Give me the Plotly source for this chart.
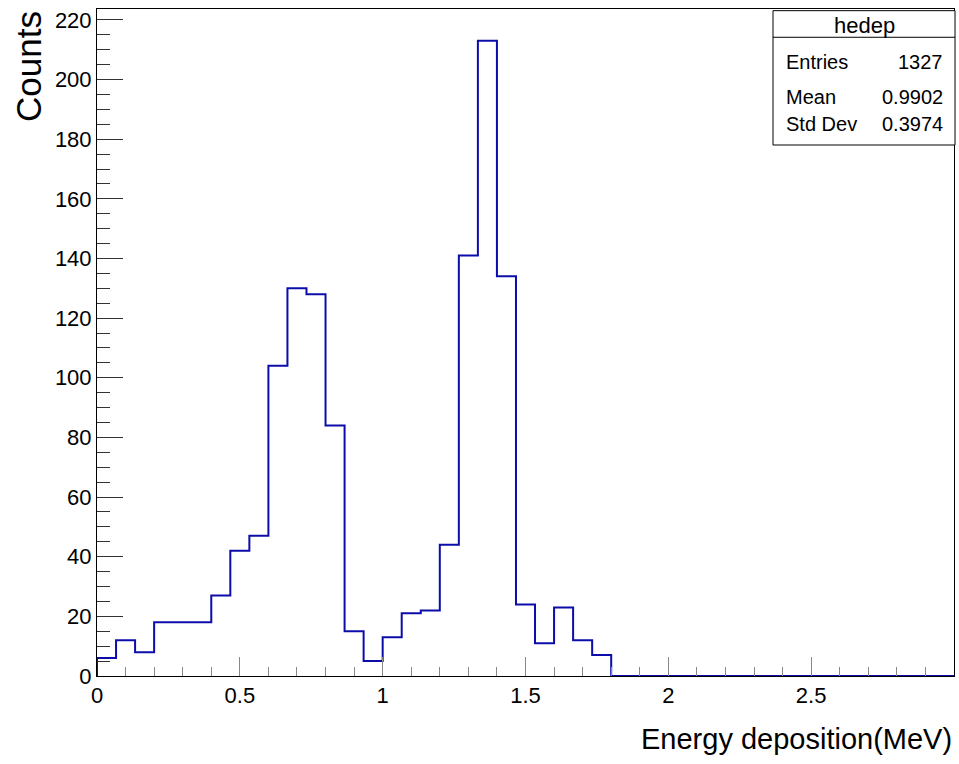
import plotly.graph_objects as go

# Histogram definition (ROOT TH1 "hedep"): 45 bins from 0 to 3 MeV
x_min = 0.0
x_max = 3.0
n_bins = 45
counts = [6, 12, 8, 18, 18, 18, 27, 42, 47, 104, 130, 128, 84, 15, 5,
          13, 21, 22, 44, 141, 213, 134, 24, 11, 23, 12, 7, 0, 0, 0,
          0, 0, 0, 0, 0, 0, 0, 0, 0, 0, 0, 0, 0, 0, 0]

x_tick_vals = [0, 0.5, 1, 1.5, 2, 2.5]
x_tick_text = ["0", "0.5", "1", "1.5", "2", "2.5"]
y_tick_vals = [0, 20, 40, 60, 80, 100, 120, 140, 160, 180, 200, 220]
y_max = 223.65

stats_name = "hedep"
stats_labels = ["Entries", "Mean", "Std Dev"]
stats_values = ["1327", "0.9902", "0.3974"]

x_title = "Energy deposition(MeV)"
y_title = "Counts"

# Build step outline from bins
w = (x_max - x_min) / n_bins
edges = [x_min + i * w for i in range(n_bins + 1)]
xs = [edges[0]] + edges[:-1] + [edges[-1], edges[-1]]
ys = [0] + counts + [counts[-1], 0]

FONT = "Liberation Sans, Arial, Helvetica, sans-serif"
LINE = "#0c0caa"

fig = go.Figure()
fig.add_trace(go.Scatter(x=xs, y=ys, mode="lines", line=dict(color=LINE, width=2, shape="hv"),
                         hoverinfo="skip", showlegend=False))

fig.update_layout(
    width=959, height=764,
    margin=dict(l=97, r=5, t=9, b=88),
    paper_bgcolor="white", plot_bgcolor="white",
    font=dict(family=FONT, color="black"),
    showlegend=False,
)
fig.update_xaxes(
    range=[x_min, x_max], showgrid=False, zeroline=False,
    showline=True, linecolor="black", linewidth=1, mirror=True,
    ticks="inside", ticklen=19, tickcolor="#888", tickwidth=1,
    tickvals=x_tick_vals, ticktext=x_tick_text,
    tickfont=dict(size=22, family=FONT, color="black"),
    minor=dict(dtick=0.1, tick0=0, ticks="inside", ticklen=9, tickcolor="#888", tickwidth=1),
)
fig.update_yaxes(
    range=[0, y_max], showgrid=False, zeroline=False,
    showline=True, linecolor="black", linewidth=1, mirror=True,
    ticks="inside", ticklen=26, tickcolor="#333", tickwidth=1,
    tickvals=y_tick_vals,
    tickfont=dict(size=22, family=FONT, color="black"),
    minor=dict(dtick=5, tick0=0, ticks="inside", ticklen=13, tickcolor="#333", tickwidth=1),
)

# axis titles (ROOT style: right/top aligned)
fig.add_annotation(text=x_title, xref="paper", yref="paper", x=1.0, y=-0.094,
                   xanchor="right", yanchor="middle", showarrow=False,
                   font=dict(size=29, family=FONT, color="black"))
fig.add_annotation(text=y_title, xref="paper", yref="paper", x=-0.08, y=1.0,
                   xanchor="center", yanchor="top", textangle=-90, showarrow=False,
                   font=dict(size=35, family=FONT, color="black"))

# stats box
bx0, bx1 = 0.7888, 1.0012
by0, by1, bsep = 0.7961, 0.9975, 0.9576
fig.add_shape(type="rect", xref="paper", yref="paper", x0=bx0, x1=bx1, y0=by0, y1=by1,
              line=dict(color="black", width=1), fillcolor="white", layer="above")
fig.add_shape(type="line", xref="paper", yref="paper", x0=bx0, x1=bx1, y0=bsep, y1=bsep,
              line=dict(color="black", width=1), layer="above")
fig.add_annotation(text=stats_name, xref="paper", yref="paper", x=(bx0 + bx1) / 2, y=0.976,
                   xanchor="center", yanchor="middle", showarrow=False,
                   font=dict(size=22, family=FONT, color="black"))
row_y = [0.9205, 0.868, 0.8276]
for lab, val, yy in zip(stats_labels, stats_values, row_y):
    fig.add_annotation(text=lab, xref="paper", yref="paper", x=0.8016, y=yy,
                       xanchor="left", yanchor="middle", showarrow=False,
                       font=dict(size=20, family=FONT, color="black"))
    fig.add_annotation(text=val, xref="paper", yref="paper", x=0.9895, y=yy,
                       xanchor="right", yanchor="middle", showarrow=False,
                       font=dict(size=20, family=FONT, color="black"))

fig.write_html(
    "out.html",
    config={"displayModeBar": False},
    post_script="document.body.style.margin='0';document.documentElement.style.overflow='hidden';document.body.style.overflow='hidden';",
)
